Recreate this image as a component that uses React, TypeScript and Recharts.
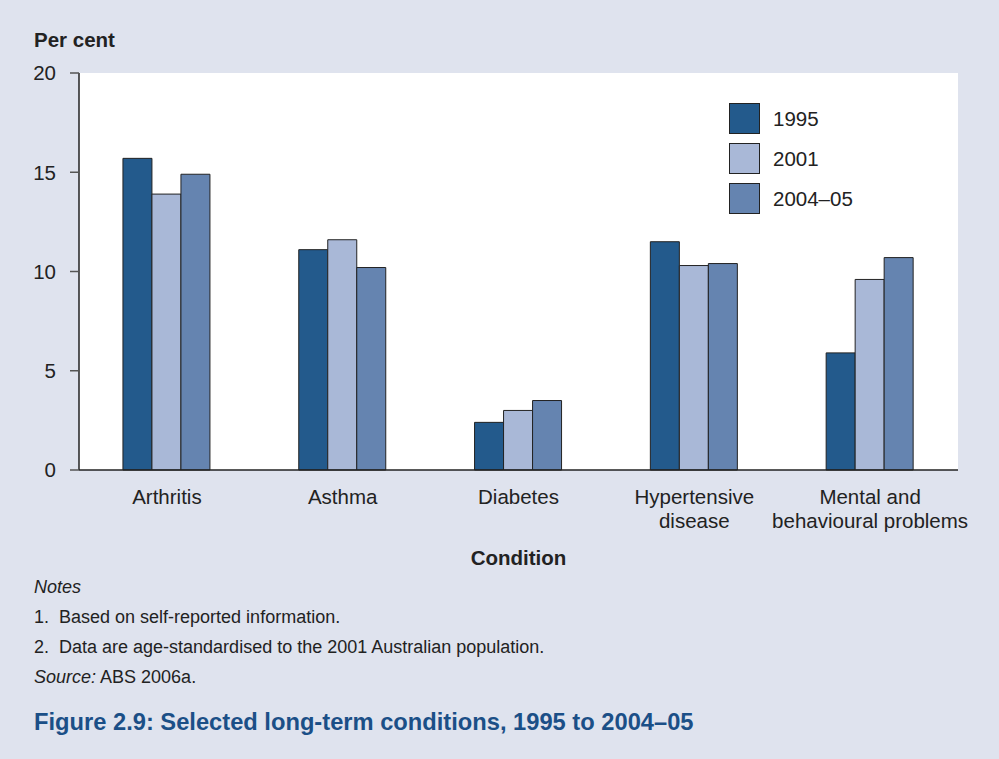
import React from 'react';
import { BarChart, Bar, XAxis, YAxis, Label } from 'recharts';

const categories = ['Arthritis', 'Asthma', 'Diabetes', 'Hypertensive\ndisease', 'Mental and\nbehavioural problems'];
const y1995 = [15.7, 11.1, 2.4, 11.5, 5.9];
const y2001 = [13.9, 11.6, 3.0, 10.3, 9.6];
const y2004 = [14.9, 10.2, 3.5, 10.4, 10.7];
const yTicks = [0, 5, 10, 15, 20];

const series = [
  { key: 'y1995', name: '1995', color: '#235a8c' },
  { key: 'y2001', name: '2001', color: '#a9b8d7' },
  { key: 'y2004', name: '2004–05', color: '#6584b0' }
];

const data = categories.map((c, i) => ({
  condition: c,
  y1995: y1995[i],
  y2001: y2001[i],
  y2004: y2004[i]
}));

const FONT = '"Liberation Sans", Arial, Helvetica, sans-serif';
const BG = '#dfe3ee';

const CategoryTick = (props: any) => {
  const { x, y, payload } = props;
  const lines = String(payload.value).split('\n');
  return <g transform={`translate(${x},${y})`}>
      {lines.map((l, i) => <text key={i} x={0} y={26 + i * 24} textAnchor="middle" fill="#222" fontSize={20.5} fontFamily={FONT}>
          {l}
        </text>)}
    </g>;
};

const App = () => {
  return <div style={{ position: 'absolute', left: 0, top: 0, width: 999, height: 759, background: BG, fontFamily: FONT, color: '#222' }}>
      <div style={{ position: 'absolute', left: 34, top: 28, fontSize: 20.5, fontWeight: 'bold' }}>Per cent</div>
      <div style={{ position: 'absolute', left: 0, top: 0 }}>
        <BarChart width={999} height={580} data={data} margin={{ top: 73, right: 41, left: 0, bottom: 10 }} barCategoryGap="25%" barGap={0}>
          <rect x={79} y={73} width={879} height={397} fill="#fff" />
          <XAxis dataKey="condition" height={100} tickLine={false} axisLine={{ stroke: '#222', strokeWidth: 1.5 }} tick={<CategoryTick />} interval={0}>
            <Label value="Condition" position="insideBottom" offset={5} style={{ fontWeight: 'bold', fontSize: 20.5, fill: '#222', fontFamily: FONT }} />
          </XAxis>
          <YAxis domain={[0, 20]} ticks={yTicks} width={79} tickSize={9} tickMargin={14} axisLine={{ stroke: '#222', strokeWidth: 1.5 }} tickLine={{ stroke: '#555', strokeWidth: 1.5 }} tick={{ fill: '#222', fontSize: 20.5, fontFamily: FONT }} />
          {series.map(s => <Bar key={s.key} dataKey={s.key} name={s.name} fill={s.color} stroke="#222" strokeWidth={1} isAnimationActive={false} />)}
        </BarChart>
      </div>
      <div style={{ position: 'absolute', left: 729, top: 98 }}>
        {series.map(s => <div key={s.key} style={{ display: 'flex', alignItems: 'center', height: 40 }}>
            <div style={{ width: 31, height: 31, background: s.color, border: '1px solid #222', boxSizing: 'border-box' }} />
            <span style={{ marginLeft: 13, fontSize: 20.5, color: '#222', position: 'relative', top: 1 }}>{s.name}</span>
          </div>)}
      </div>
      <div style={{ position: 'absolute', left: 34, top: 572, fontSize: 18, lineHeight: '30px' }}>
        <div style={{ fontStyle: 'italic' }}>Notes</div>
        <div>1.&nbsp;&nbsp;Based on self-reported information.</div>
        <div>2.&nbsp;&nbsp;Data are age-standardised to the 2001 Australian population.</div>
        <div><i>Source:</i> ABS 2006a.</div>
      </div>
      <div style={{ position: 'absolute', left: 34, top: 709, fontSize: 23.7, fontWeight: 'bold', color: '#1b4f87' }}>
        Figure 2.9: Selected long-term conditions, 1995 to 2004–05
      </div>
    </div>;
};

export default App;
